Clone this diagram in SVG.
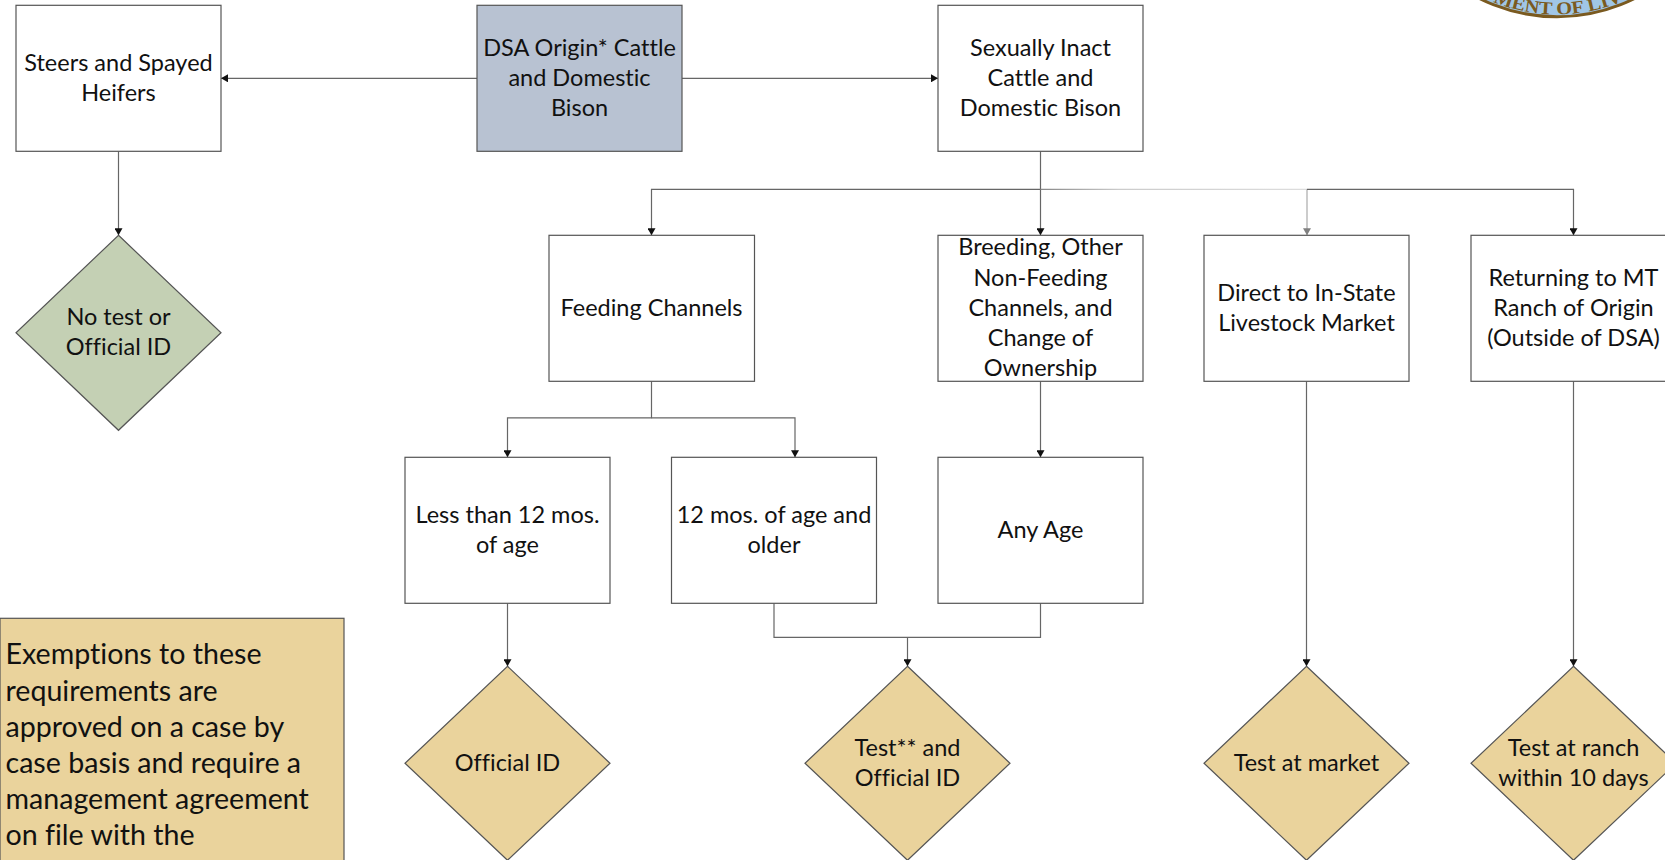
<svg xmlns="http://www.w3.org/2000/svg" width="1665" height="860" viewBox="0 0 1665 860">
<style>
text{font-family:Lato,"Open Sans","Liberation Sans",sans-serif;font-size:23.5px;fill:#111;text-anchor:middle;font-variant-ligatures:none;transform:translateY(.4px)}
.box{fill:#fff;stroke:#555;stroke-width:1.2}
.blue{fill:#B8C2D2}
.tan{fill:#EAD39C}
.green{fill:#C4D0B4}
.con{fill:none;stroke:#666;stroke-width:1.2}
.note{font-size:28.6px;text-anchor:start;transform:translateY(1px)}
.seal{font-family:"Liberation Serif",serif;font-weight:bold;font-size:18px;fill:#7A5A20;text-anchor:middle;transform:none}
</style>
<defs>
<marker id="arr" markerUnits="userSpaceOnUse" markerWidth="8" markerHeight="8" refX="7" refY="4" orient="auto"><path d="M0 0L7 4L0 8Z" fill="#111"/></marker>
<marker id="arrg" markerUnits="userSpaceOnUse" markerWidth="8" markerHeight="8" refX="7" refY="4" orient="auto"><path d="M0 0L7 4L0 8Z" fill="#808080"/></marker>
<linearGradient id="fade" gradientUnits="userSpaceOnUse" x1="1040" y1="0" x2="1307" y2="0"><stop offset="0" stop-color="#888"/><stop offset="0.3" stop-color="#ccc"/><stop offset="1" stop-color="#ddd"/></linearGradient>
<path id="sealArc" d="M1387 -156A170 170 0 0 0 1727 -156"/>
</defs>
<g transform="translate(0 0.3)">
<g id="seal">
<circle cx="1557" cy="-156.5" r="173" fill="#A0C6E6" stroke="#7A5A20" stroke-width="3"/>
<text class="seal"><textPath href="#sealArc" startOffset="268" textLength="134" lengthAdjust="spacingAndGlyphs">MENT OF LIV</textPath></text>
</g>
<g id="connectors">
<path class="con" d="M477 78H221" marker-end="url(#arr)"/>
<path class="con" d="M682 78H938" marker-end="url(#arr)"/>
<path class="con" d="M118.500 151V235" marker-end="url(#arr)"/>
<path class="con" d="M1040.500 151V235" marker-end="url(#arr)"/>
<path class="con" d="M1040.500 189H651.500V235" marker-end="url(#arr)"/>
<path d="M1040.500 189H1307" fill="none" stroke="url(#fade)" stroke-width="1.200"/>
<path d="M1307 189V235" fill="none" stroke="#aaa" stroke-width="1.200" marker-end="url(#arrg)"/>
<path class="con" d="M1307 189H1573.500V235" marker-end="url(#arr)"/>
<path class="con" d="M651.500 381V417.500H507.500V457" marker-end="url(#arr)"/>
<path class="con" d="M651.500 417.500H795V457" marker-end="url(#arr)"/>
<path class="con" d="M1040.500 381V457" marker-end="url(#arr)"/>
<path class="con" d="M1306.500 381V666" marker-end="url(#arr)"/>
<path class="con" d="M1573.500 381V666" marker-end="url(#arr)"/>
<path class="con" d="M507.500 603V666" marker-end="url(#arr)"/>
<path class="con" d="M774 603V637H1040.500V603"/>
<path class="con" d="M907.500 637V666" marker-end="url(#arr)"/>
</g>
<g id="steers"><rect class="box" x="16" y="5" width="205" height="146"/><text x="118.500" y="70.300">Steers and Spayed</text><text x="118.500" y="100.700">Heifers</text></g>
<g id="dsa-origin"><rect class="box blue" x="477" y="5" width="205" height="146"/><text x="579.500" y="55">DSA Origin* Cattle</text><text x="579.500" y="85.300">and Domestic</text><text x="579.500" y="115.700">Bison</text></g>
<g id="sexually-inact"><rect class="box" x="938" y="5" width="205" height="146"/><text x="1040.500" y="55">Sexually Inact</text><text x="1040.500" y="85.300">Cattle and</text><text x="1040.500" y="115.700">Domestic Bison</text></g>
<g id="no-test"><path class="box green" d="M118.500 235L221 332.500L118.500 430L16 332.500Z"/><text x="118.500" y="324.300">No test or</text><text x="118.500" y="354.500">Official ID</text></g>
<g id="feeding"><rect class="box" x="549" y="235" width="205.500" height="146"/><text x="651.500" y="315">Feeding Channels</text></g>
<g id="breeding"><rect class="box" x="938" y="235" width="205" height="146"/><text x="1040.500" y="254.300">Breeding, Other</text><text x="1040.500" y="285">Non-Feeding</text><text x="1040.500" y="315">Channels, and</text><text x="1040.500" y="345.700">Change of</text><text x="1040.500" y="375.700">Ownership</text></g>
<g id="direct"><rect class="box" x="1204" y="235" width="205" height="146"/><text x="1306.500" y="300">Direct to In-State</text><text x="1306.500" y="330">Livestock Market</text></g>
<g id="returning"><rect class="box" x="1471" y="235" width="205" height="146"/><text x="1573.500" y="285">Returning to MT</text><text x="1573.500" y="315">Ranch of Origin</text><text x="1573.500" y="345.700">(Outside of DSA)</text></g>
<g id="less-12"><rect class="box" x="405" y="457" width="205" height="146"/><text x="507.500" y="522.300">Less than 12 mos.</text><text x="507.500" y="552.700">of age</text></g>
<g id="over-12"><rect class="box" x="671.500" y="457" width="205" height="146"/><text x="774" y="522.300">12 mos. of age and</text><text x="774" y="552.700">older</text></g>
<g id="any-age"><rect class="box" x="938" y="457" width="205" height="146"/><text x="1040.500" y="537">Any Age</text></g>
<g id="official-id"><path class="box tan" d="M507.500 666L610 763L507.500 860L405 763Z"/><text x="507.500" y="770">Official ID</text></g>
<g id="test-id"><path class="box tan" d="M907.500 666L1010 763L907.500 860L805 763Z"/><text x="907.500" y="755">Test** and</text><text x="907.500" y="785">Official ID</text></g>
<g id="test-market"><path class="box tan" d="M1306.500 666L1409 763L1306.500 860L1204 763Z"/><text x="1306.500" y="770">Test at market</text></g>
<g id="test-ranch"><path class="box tan" d="M1573.500 666L1676 763L1573.500 860L1471 763Z"/><text x="1573.500" y="755">Test at ranch</text><text x="1573.500" y="785">within 10 days</text></g>
<g id="exemptions"><rect class="box tan" x="0" y="618" width="344" height="250"/>
<text class="note" x="5.500" y="663">Exemptions to these</text><text class="note" x="5.500" y="699.300">requirements are</text><text class="note" x="5.500" y="735.600">approved on a case by</text><text class="note" x="5.500" y="771.800">case basis and require a</text><text class="note" x="5.500" y="808">management agreement</text><text class="note" x="5.500" y="844.200">on file with the</text></g>
</g>
</svg>
